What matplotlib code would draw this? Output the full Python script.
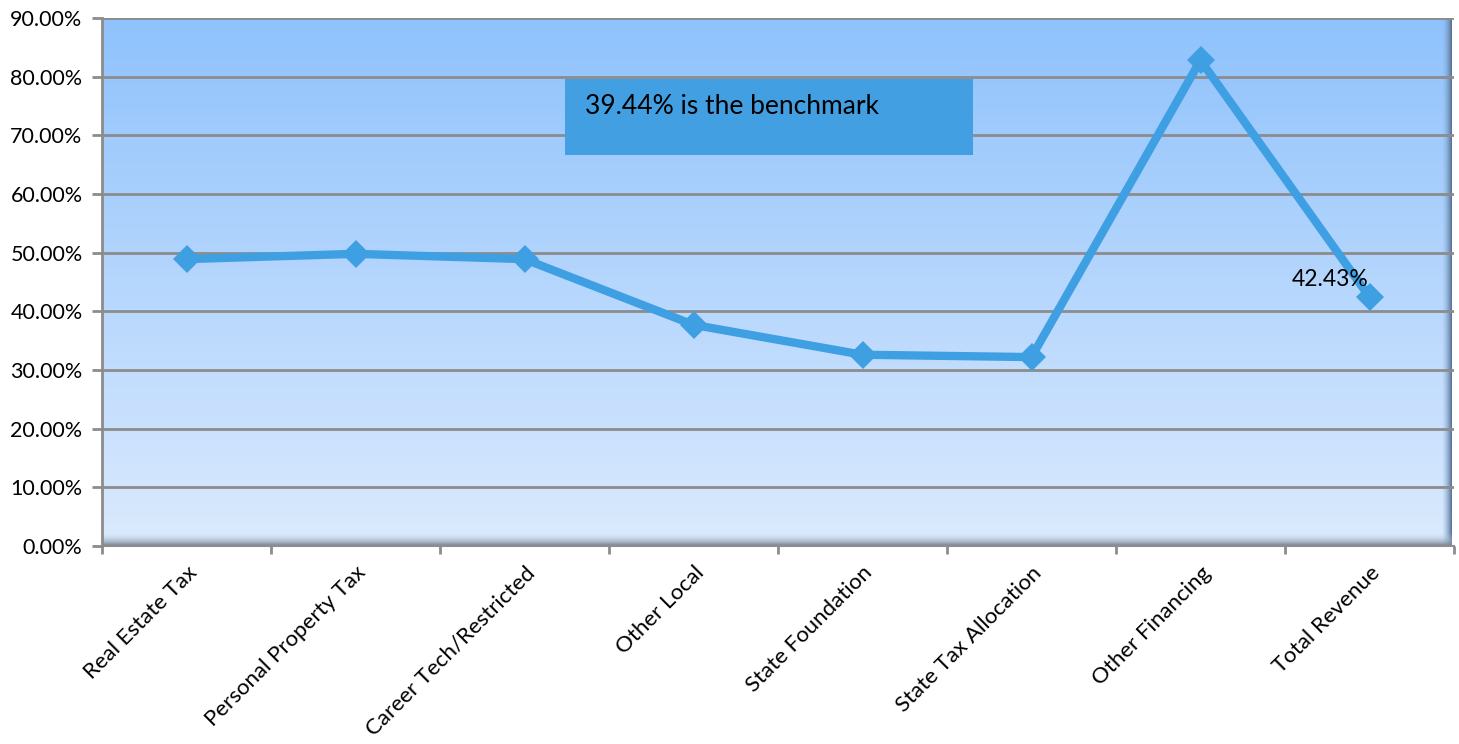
import numpy as np
import matplotlib
matplotlib.use("Agg")
import matplotlib.pyplot as plt
from matplotlib.colors import LinearSegmentedColormap
from matplotlib.ticker import FuncFormatter, MultipleLocator
from matplotlib.patches import Rectangle

categories = ["Real Estate Tax", "Personal Property Tax", "Career Tech/Restricted",
              "Other Local", "State Foundation", "State Tax Allocation",
              "Other Financing", "Total Revenue"]
values = [48.9, 49.8, 48.9, 37.7, 32.6, 32.2, 82.8, 42.43]
benchmark_note = "39.44% is the benchmark"
labelled_index = 7

plt.rcParams["font.family"] = ["Lato", "DejaVu Sans"]

W, H = 1459, 744
fig = plt.figure(figsize=(W / 100, H / 100), dpi=100)
ax = fig.add_axes([102 / W, 1 - 546 / H, 1352 / W, 528 / H])

ax.set_xlim(-0.5, len(categories) - 0.5)
ax.set_ylim(0, 90)

# wall gradient: light at the floor, deeper blue at the top
wall = LinearSegmentedColormap.from_list("wall", ["#dbeafe", "#8fc2fc"])
grad = np.linspace(0, 1, 256).reshape(-1, 1)
ax.imshow(grad, cmap=wall, origin="lower", aspect="auto",
          extent=[0, 1, 0, 1], transform=ax.transAxes, zorder=0)

# darker shading along the right wall edge and the floor
right_shade = LinearSegmentedColormap.from_list(
    "rs", [(0.56, 0.72, 0.90, 0.0), (0.33, 0.43, 0.55, 1.0)])
ax.imshow(np.linspace(0, 1, 64).reshape(1, -1), cmap=right_shade, aspect="auto",
          extent=[1 - 12 / 1352, 1 - 2 / 1352, 0, 1], transform=ax.transAxes, zorder=0.5)
ax.add_patch(Rectangle((1 - 2 / 1352, 0), 2 / 1352, 1, transform=ax.transAxes,
                       color="white", zorder=0.6, lw=0))
floor_shade = LinearSegmentedColormap.from_list(
    "fs", [(0.45, 0.50, 0.56, 1.0), (0.80, 0.86, 0.94, 0.0)])
ax.imshow(np.linspace(0, 1, 64).reshape(-1, 1), cmap=floor_shade, origin="lower",
          aspect="auto", extent=[0, 1, 0, 13 / 528], transform=ax.transAxes, zorder=0.5)

ax.yaxis.set_major_locator(MultipleLocator(10))
ax.yaxis.set_major_formatter(FuncFormatter(lambda v, p: f"{v:.2f}%"))
ax.grid(axis="y", color="#8c8c8c", linewidth=2, zorder=1)
ax.set_axisbelow(False)

ax.set_xticks(np.arange(len(categories)))
ax.set_xticklabels(categories, rotation=45, ha="right", va="top",
                   rotation_mode="anchor", fontsize=16)
ax.tick_params(axis="x", length=0, pad=12)
ax.set_xticks(np.arange(len(categories) + 1) - 0.5, minor=True)
ax.tick_params(axis="x", which="minor", length=6, width=2, color="#8c8c8c")
ax.tick_params(axis="y", length=7, width=2, color="#8c8c8c", labelsize=15.5, pad=7)

for side in ["top", "right"]:
    ax.spines[side].set_visible(False)
ax.spines["left"].set_color("#8c8c8c")
ax.spines["left"].set_linewidth(2)
ax.spines["bottom"].set_color("#8c8c8c")
ax.spines["bottom"].set_linewidth(1.5)

x = np.arange(len(categories))
ax.plot(x, values, color="#3f9fe3", linewidth=6, marker="D", markersize=14,
        markeredgewidth=0, solid_joinstyle="miter", zorder=3)

ax.annotate(f"{values[labelled_index]:.2f}%", (x[labelled_index], values[labelled_index]),
            xytext=(-1, 5), textcoords="offset points", ha="right", va="bottom",
            fontsize=16.5, zorder=4)

# benchmark note box
fig.add_artist(Rectangle((565 / W, 1 - 155 / H), 408 / W, 76 / H,
                         transform=fig.transFigure, color="#429fe2", zorder=4, lw=0))
fig.text(585 / W, 1 - 106 / H, benchmark_note, fontsize=19, va="center", ha="left",
         zorder=5)

fig.savefig("out.png", dpi=100)
